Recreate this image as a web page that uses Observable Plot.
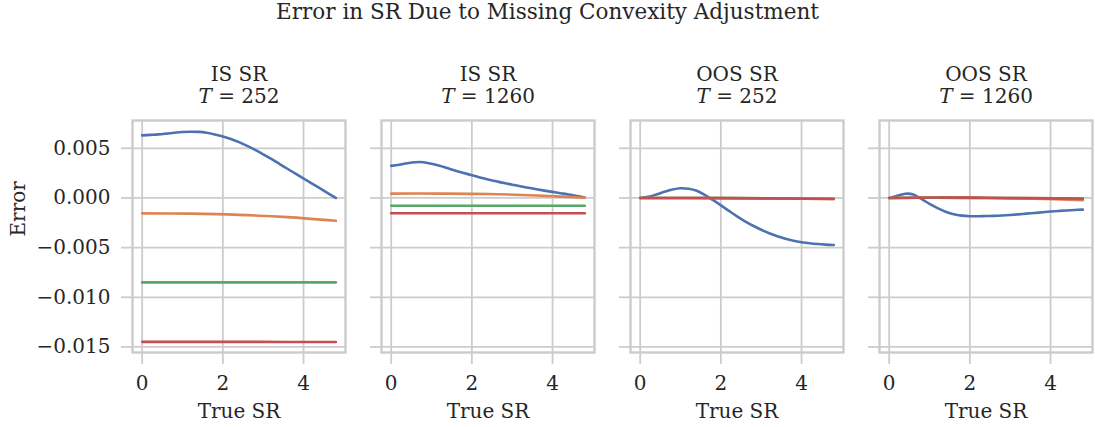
<!DOCTYPE html>
<html><head><meta charset="utf-8">
<script src="https://cdn.jsdelivr.net/npm/d3@7"></script>
<script src="https://cdn.jsdelivr.net/npm/@observablehq/plot@0.6"></script>
<style>
body{margin:0;background:#fff;}
#title{font-family:"DejaVu Serif",serif;font-size:21.5px;line-height:24px;height:28px;text-align:center;color:#262626;}
</style></head><body>
<div id="title">Error in SR Due to Missing Convexity Adjustment</div>
<div id="chart"></div>
<script>
// ---- labels ----
const titleText = "Error in SR Due to Missing Convexity Adjustment";
const panelNames = ["IS SR", "IS SR", "OOS SR", "OOS SR"];
const horizons = [252, 1260, 252, 1260];
const xLabel = "True SR";
const yLabel = "Error";
const xTicks = [0, 2, 4];
const yTicks = [0.005, 0.0, -0.005, -0.010, -0.015];
const seriesNames = ["s1", "s2", "s3", "s4"];
const palette = ["#4C72B0", "#DD8452", "#55A868", "#C44E52"];

// ---- x grids ----
const srFine = [0, 0.2, 0.4, 0.6, 0.8, 1.0, 1.2, 1.4, 1.6, 1.8, 2.0, 2.2, 2.4, 2.6, 2.8, 3.0, 3.2, 3.4, 3.6, 3.8, 4.0, 4.2, 4.4, 4.6, 4.8];
const srCoarse = [0, 1.2, 2.4, 3.6, 4.8];

// ---- IS SR, T = 252 ----
const is252_s1 = [0.0063, 0.00635, 0.0064, 0.00648, 0.00657, 0.00664, 0.00667, 0.00665, 0.00656, 0.0064, 0.0062, 0.00594, 0.00562, 0.00525, 0.00484, 0.0044, 0.00393, 0.00344, 0.00294, 0.00245, 0.00196, 0.00147, 0.00098, 0.00049, 0.0];
const is252_s2 = [-0.00155, -0.00158, -0.0017, -0.00193, -0.0023];
const is252_s3 = [-0.0085, -0.0085, -0.0085, -0.0085, -0.0085];
const is252_s4 = [-0.01449, -0.01449, -0.01449, -0.0145, -0.0145];

// ---- IS SR, T = 1260 ----
const is1260_s1 = [0.00323, 0.00335, 0.0035, 0.0036, 0.0036, 0.00345, 0.00325, 0.00299, 0.00274, 0.00251, 0.00229, 0.00207, 0.00186, 0.00168, 0.0015, 0.00134, 0.00118, 0.00103, 0.00088, 0.00074, 0.00061, 0.00048, 0.00035, 0.0002, 0.00004];
const is1260_s2 = [0.00044, 0.00044, 0.0004, 0.00025, 0.00002];
const is1260_s3 = [-0.00078, -0.00078, -0.00078, -0.00078, -0.00079];
const is1260_s4 = [-0.00154, -0.00154, -0.00154, -0.00154, -0.00154];

// ---- OOS SR, T = 252 ----
const oos252_s1 = [0.0, 0.00012, 0.00035, 0.00062, 0.00085, 0.00098, 0.00092, 0.00072, 0.0003, -0.0002, -0.00074, -0.0013, -0.00185, -0.00235, -0.0028, -0.0032, -0.00355, -0.00385, -0.0041, -0.0043, -0.00445, -0.00456, -0.00464, -0.0047, -0.00474];
const oos252_s2 = [0.0, 0.0, -0.00002, -0.00005, -0.0001];
const oos252_s3 = [0.0, 0.0, -0.00002, -0.00004, -0.00008];
const oos252_s4 = [0.0, 0.0, -0.00003, -0.00006, -0.0001];

// ---- OOS SR, T = 1260 ----
const oos1260_s1 = [0.0, 0.00022, 0.00043, 0.00035, -0.0001, -0.0006, -0.00102, -0.00138, -0.00164, -0.00178, -0.00184, -0.00184, -0.00182, -0.0018, -0.00176, -0.00171, -0.00165, -0.00158, -0.00151, -0.00144, -0.00137, -0.00131, -0.00126, -0.00121, -0.00117];
const oos1260_s2 = [0.0, 0.00003, 0.0, -0.00008, -0.00022];
const oos1260_s3 = [0.0, 0.00002, 0.0, -0.00003, -0.0001];
const oos1260_s4 = [0.0, 0.00004, 0.00002, -0.00002, -0.00006];

const panelSeries = [
  [is252_s1, is252_s2, is252_s3, is252_s4],
  [is1260_s1, is1260_s2, is1260_s3, is1260_s4],
  [oos252_s1, oos252_s2, oos252_s3, oos252_s4],
  [oos1260_s1, oos1260_s2, oos1260_s3, oos1260_s4]
];
const panelIdx = [0, 1, 2, 3];

const rows = [];
panelSeries.forEach((list, p) => {
  list.forEach((arr, k) => {
    const xs = arr.length === srFine.length ? srFine : srCoarse;
    arr.forEach((v, i) => rows.push({panel: p, series: seriesNames[k], sr: xs[i], err: v}));
  });
});

const textColor = "#262626";
const lightGray = "#cccccc";

const chart = Plot.plot({
  width: 1095,
  height: 399,
  marginTop: 92,
  marginBottom: 75,
  marginLeft: 131,
  marginRight: 1,
  style: {fontFamily: '"DejaVu Serif", serif', fontSize: "20px", color: textColor, background: "white"},
  fx: {domain: panelIdx, paddingInner: 0.144, paddingOuter: 0, axis: null, label: null},
  x: {domain: [-0.24, 5.04], label: null},
  y: {domain: [-0.01556, 0.0078], label: null},
  color: {domain: seriesNames, range: palette},
  marks: [
    Plot.gridX(xTicks, {stroke: lightGray, strokeOpacity: 1, strokeWidth: 1.8}),
    Plot.gridY(yTicks, {stroke: lightGray, strokeOpacity: 1, strokeWidth: 1.8}),
    Plot.frame({stroke: lightGray, strokeWidth: 2.4}),
    Plot.axisY(yTicks, {facetAnchor: null, fill: "none", label: null, tickSize: 11, stroke: lightGray, strokeWidth: 1.8}),
    Plot.axisY(yTicks, {facetAnchor: "left", stroke: "none", tickSize: 0, tickPadding: 22, fill: textColor, tickFormat: d3.format(".3f"), label: null}),
    Plot.axisX(xTicks, {tickSize: 12, tickPadding: 11, stroke: lightGray, strokeWidth: 1.8, fill: textColor, tickFormat: d3.format("d"), label: null}),
    Plot.line(rows, {fx: "panel", x: "sr", y: "err", stroke: "series", z: "series", strokeWidth: 2.6, curve: "catmull-rom"}),
    Plot.text(panelIdx, {fx: d => d, text: i => panelNames[i], frameAnchor: "top", dy: -54, fill: textColor}),
    Plot.text(panelIdx, {fx: d => d, text: i => "T = " + horizons[i], frameAnchor: "top", dy: -32, fill: textColor}),
    Plot.text(panelIdx, {fx: d => d, text: () => xLabel, frameAnchor: "bottom", dy: 65, fill: textColor}),
    Plot.text([0], {fx: d => d, text: () => yLabel, frameAnchor: "left", rotate: -90, dx: -114, fill: textColor})
  ]
});

// italic T in facet titles
chart.querySelectorAll("text").forEach(el => {
  const t = el.textContent;
  if (/^T = \d+$/.test(t)) {
    el.textContent = "";
    const ns = "http://www.w3.org/2000/svg";
    const a = document.createElementNS(ns, "tspan");
    a.setAttribute("font-style", "italic");
    a.textContent = "T";
    const b = document.createElementNS(ns, "tspan");
    b.textContent = t.slice(1);
    el.appendChild(a); el.appendChild(b);
  }
});

document.getElementById("title").textContent = titleText;
document.getElementById("chart").appendChild(chart);
</script>
</body></html>
